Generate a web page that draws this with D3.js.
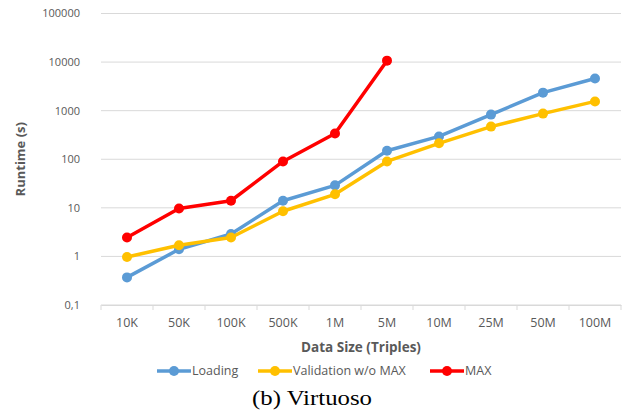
<!DOCTYPE html>
<html lang="en">
<head>
<meta charset="utf-8">
<script src="https://cdnjs.cloudflare.com/ajax/libs/d3/7.8.5/d3.min.js"></script>
<style>
  body { margin: 0; background: #fff; }
  svg { display: block; }
</style>
</head>
<body>
<script>
// data
var categories = ["10K", "50K", "100K", "500K", "1M", "5M", "10M", "25M", "50M", "100M"]
var loading = [0.37, 1.4, 2.9, 14, 29, 150, 295, 830, 2350, 4600]
var validation = [0.97, 1.7, 2.45, 8.5, 19, 90, 213, 470, 870, 1550]
var maxRun = [2.45, 9.7, 14, 90, 340, 10700]
var yTicks = [0.1, 1, 10, 100, 1000, 10000, 100000]
var seriesNames = ["Loading", "Validation w/o MAX", "MAX"]
var colors = ["#5B9BD5", "#FFC000", "#FF0000"]

var width = 624, height = 415
var margin = {left: 101, right: 3, top: 13.5, bottom: 110}
var font = "'Open Sans', sans-serif"
var grey = "#595959"

var svg = d3.select("body").append("svg")
    .attr("width", width)
    .attr("height", height)
    .attr("font-family", font)

var x = d3.scaleBand()
    .domain(categories)
    .range([margin.left, width - margin.right])

var y = d3.scaleLog()
    .domain([0.1, 100000])
    .range([height - margin.bottom, margin.top])

// grid lines
svg.append("g")
    .selectAll("line")
    .data(yTicks)
    .join("line")
    .attr("x1", margin.left)
    .attr("x2", width - margin.right)
    .attr("y1", d => y(d))
    .attr("y2", d => y(d))
    .attr("stroke", "#d9d9d9")
    .attr("stroke-width", 1)

// y tick labels
svg.append("g")
    .selectAll("text")
    .data(yTicks)
    .join("text")
    .attr("x", 80)
    .attr("y", d => y(d))
    .attr("dy", "0.35em")
    .attr("text-anchor", "end")
    .attr("font-size", 11)
    .attr("fill", grey)
    .text(d => d < 1 ? String(d).replace(".", ",") : String(d))

// x axis
var xAxis = d3.axisBottom(x).tickSize(0).tickPadding(13)
var gx = svg.append("g")
    .attr("transform", `translate(0,${y(0.1)})`)
    .call(xAxis)
gx.select(".domain").attr("stroke", "#d9d9d9")
gx.selectAll("text")
    .attr("font-family", font)
    .attr("font-size", 12.5)
    .attr("fill", grey)
// tick marks at band edges
gx.append("g")
    .selectAll("line")
    .data(categories.concat(["end"]))
    .join("line")
    .attr("x1", (d, i) => margin.left + i * x.step())
    .attr("x2", (d, i) => margin.left + i * x.step())
    .attr("y1", 0)
    .attr("y2", 5)
    .attr("stroke", "#d9d9d9")

// axis titles
svg.append("text")
    .attr("transform", `translate(25,${(y(0.1) + y(100000)) / 2}) rotate(-90)`)
    .attr("text-anchor", "middle")
    .attr("font-size", 13)
    .attr("font-weight", "bold")
    .attr("fill", grey)
    .text("Runtime (s)")

svg.append("text")
    .attr("x", (margin.left + width - margin.right) / 2)
    .attr("y", 352)
    .attr("text-anchor", "middle")
    .attr("font-size", 13.5)
    .attr("font-weight", "bold")
    .attr("fill", grey)
    .text("Data Size (Triples)")

// lines
var line = d3.line()
    .x((d, i) => x(categories[i]) + x.bandwidth() / 2)
    .y(d => y(d))

var allSeries = [loading, validation, maxRun]
var g = svg.append("g")
allSeries.forEach((vals, s) => {
    g.append("path")
        .datum(vals)
        .attr("fill", "none")
        .attr("stroke", colors[s])
        .attr("stroke-width", 3.5)
        .attr("stroke-linejoin", "round")
        .attr("d", line)
    g.append("g")
        .selectAll("circle")
        .data(vals)
        .join("circle")
        .attr("cx", (d, i) => x(categories[i]) + x.bandwidth() / 2)
        .attr("cy", d => y(d))
        .attr("r", 5)
        .attr("fill", colors[s])
})

// legend
var legendX = [157, 258, 430]
var legend = svg.append("g")
    .selectAll("g")
    .data(seriesNames)
    .join("g")
    .attr("transform", (d, i) => `translate(${legendX[i]},371)`)
legend.append("line")
    .attr("x1", 0).attr("x2", 34)
    .attr("stroke", (d, i) => colors[i])
    .attr("stroke-width", 3.5)
legend.append("circle")
    .attr("cx", 17).attr("r", 5)
    .attr("fill", (d, i) => colors[i])
legend.append("text")
    .attr("x", 35)
    .attr("dy", "0.35em")
    .attr("font-size", 12.5)
    .attr("fill", grey)
    .text(d => d)

// caption
svg.append("text")
    .attr("x", 312)
    .attr("y", 405)
    .attr("text-anchor", "middle")
    .attr("font-family", "'Liberation Serif', serif")
    .attr("font-size", 22)
    .attr("textLength", 120)
    .attr("lengthAdjust", "spacingAndGlyphs")
    .attr("fill", "#000")
    .text("(b) Virtuoso")
</script>
</body>
</html>
